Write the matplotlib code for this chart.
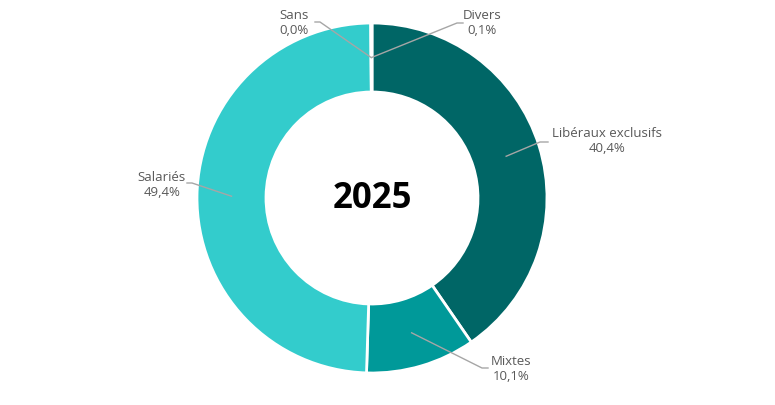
import numpy as np
import matplotlib
matplotlib.use("Agg")
import matplotlib.pyplot as plt

# ---- data ----
categories = ["Libéraux exclusifs", "Mixtes", "Salariés", "Sans", "Divers"]
values = [40.4, 10.1, 49.4, 0.0, 0.1]
pct_labels = ["40,4%", "10,1%", "49,4%", "0,0%", "0,1%"]
title_text = "2025"

colors = ["#006666", "#009999", "#33CCCC", "#33CCCC", "#7FD8D8"]

W, H = 775, 405
fig = plt.figure(figsize=(W / 100, H / 100), dpi=100)
ax = fig.add_axes([0, 0, 1, 1])

def py(y):
    return H - y

cx, cy = 372, 198
R_out, ring = 175, 69

ax.pie(values, colors=colors, startangle=90, counterclock=False,
       radius=R_out, center=(cx, py(cy)),
       wedgeprops=dict(width=ring, edgecolor="white", linewidth=2))
ax.set_xlim(0, W)
ax.set_ylim(0, H)
ax.set_aspect("equal")
ax.axis("off")

ax.text(cx, py(199), title_text, ha="center", va="center",
        fontsize=25, fontweight="bold", family="Open Sans", color="black")

# label layout (pixel positions): elbow point, horizontal end, text centre
layout = {
    "Libéraux exclusifs": ((540, 142), (548, 142), (607, 141)),
    "Mixtes": ((482, 368), (488, 368), (511, 369)),
    "Salariés": ((192, 183), (187, 183), (162, 185)),
    "Sans": ((320, 22), (315, 22), (294, 23)),
    "Divers": ((457, 23), (463, 23), (482, 23)),
}

total = sum(values)
cum = 0.0
r_mid = R_out - ring / 2
for cat, v, pl in zip(categories, values, pct_labels):
    mid = 90 - (cum + v / 2) / total * 360
    cum += v
    sx = cx + r_mid * np.cos(np.radians(mid))
    sy = cy - r_mid * np.sin(np.radians(mid))
    (ex, ey), (hx, hy), (tx, ty) = layout[cat]
    ax.plot([sx, ex, hx], [py(sy), py(ey), py(hy)], color="#A6A6A6", lw=1.0)
    ax.text(tx, py(ty), f"{cat}\n{pl}", ha="center", va="center",
            fontsize=9.5, family="Open Sans", color="#595959", linespacing=1.15)

fig.savefig("out.png", dpi=100, facecolor="white")
